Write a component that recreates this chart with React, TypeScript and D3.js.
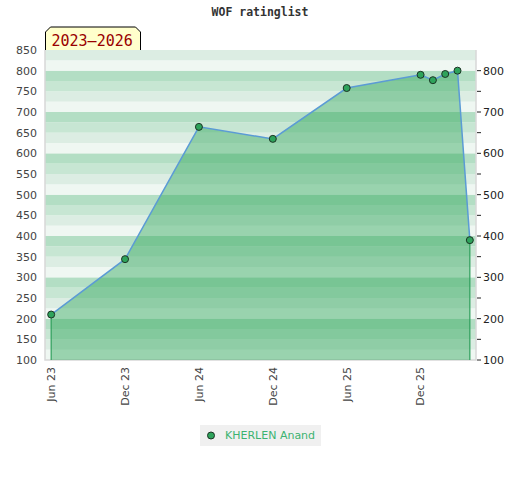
import React, { useRef, useEffect } from 'react';
import * as d3 from 'd3';

// Rating history (one point per list month)
const months = ['2023-06', '2023-12', '2024-06', '2024-12', '2025-06', '2025-12', '2026-01', '2026-02', '2026-03', '2026-04'];
const ratings = [210, 344, 664, 635, 758, 790, 777, 792, 800, 390];
const xTickMonths = ['2023-06', '2023-12', '2024-06', '2024-12', '2025-06', '2025-12'];
const leftTicks = [100, 150, 200, 250, 300, 350, 400, 450, 500, 550, 600, 650, 700, 750, 800, 850];
const rightTicks = [100, 200, 300, 400, 500, 600, 700, 800];
const playerName = 'KHERLEN Anand';
const periodLabel = '2023–2026';
const chartTitle = 'WOF ratinglist';

const monthNames = ['Jan', 'Feb', 'Mar', 'Apr', 'May', 'Jun', 'Jul', 'Aug', 'Sep', 'Oct', 'Nov', 'Dec'];

// months since Jun 2023
const monthIndex = (m: string) => {
  const [y, mo] = m.split('-').map(Number);
  return (y - 2023) * 12 + (mo - 6);
};
const monthLabel = (m: string) => {
  const [y, mo] = m.split('-').map(Number);
  return `${monthNames[mo - 1]} ${String(y).slice(2)}`;
};

const App = () => {
  const svgRef = useRef<SVGSVGElement | null>(null);

  useEffect(() => {
    if (!svgRef.current) return;
    document.body.style.margin = '0';

    const width = 520;
    const height = 480;
    const plot = { left: 45, right: 476, top: 50, bottom: 360 };

    const svg = d3.select(svgRef.current)
      .attr('width', width)
      .attr('height', height);
    svg.selectAll('*').remove();

    const x = d3.scaleLinear().domain([-0.5, 34.5]).range([plot.left, plot.right]);
    const y = d3.scaleLinear().domain([100, 850]).range([plot.bottom, plot.top]);

    // title
    svg.append('text')
      .attr('x', 260).attr('y', 16)
      .attr('text-anchor', 'middle')
      .style('font-family', '"DejaVu Sans Mono", monospace')
      .style('font-weight', 'bold')
      .style('font-size', '11.5px')
      .attr('fill', '#333')
      .text(chartTitle);

    // striped background, 25-point stripes repeating every 100
    const stripeColors = ['#eff7f2', '#dcede3', '#c7e6d3', '#b3dec4'];
    const stripes = d3.range(100, 850, 25);
    svg.append('g').selectAll('rect')
      .data(stripes)
      .enter().append('rect')
      .attr('x', plot.left)
      .attr('width', plot.right - plot.left)
      .attr('y', d => y(d + 25))
      .attr('height', d => y(d) - y(d + 25))
      .attr('fill', d => stripeColors[(d % 100) / 25]);

    // plot frame
    svg.append('path')
      .attr('d', `M${plot.left},${plot.top}V${plot.bottom}H${plot.right}V${plot.top}`)
      .attr('fill', 'none')
      .attr('stroke', '#d8d8d8')
      .attr('stroke-width', 1.5);

    const pts: [number, number][] = months.map((m, i) => [monthIndex(m), ratings[i]]);

    // area
    const area = d3.area<[number, number]>()
      .x(d => x(d[0]))
      .y0(y(100))
      .y1(d => y(d[1]));
    svg.append('path')
      .datum(pts)
      .attr('d', area)
      .attr('fill', 'rgb(48,167,91)')
      .attr('fill-opacity', 0.45);

    // vertical edges
    [pts[0], pts[pts.length - 1]].forEach(p => {
      svg.append('line')
        .attr('x1', x(p[0])).attr('x2', x(p[0]))
        .attr('y1', y(p[1])).attr('y2', y(100))
        .attr('stroke', '#2e9e5b')
        .attr('stroke-width', 1.2);
    });

    // line
    const line = d3.line<[number, number]>()
      .x(d => x(d[0]))
      .y(d => y(d[1]));
    svg.append('path')
      .datum(pts)
      .attr('d', line)
      .attr('fill', 'none')
      .attr('stroke', '#5b9bd5')
      .attr('stroke-width', 1.5);

    // markers
    svg.append('g').selectAll('circle')
      .data(pts)
      .enter().append('circle')
      .attr('cx', d => x(d[0]))
      .attr('cy', d => y(d[1]))
      .attr('r', 3.5)
      .attr('fill', '#2ea35b')
      .attr('stroke', '#1b3324')
      .attr('stroke-width', 1);

    // left axis labels
    svg.append('g').selectAll('text')
      .data(leftTicks)
      .enter().append('text')
      .attr('x', 37)
      .attr('y', d => y(d))
      .attr('dy', '0.35em')
      .attr('text-anchor', 'end')
      .style('font-family', '"DejaVu Sans", sans-serif')
      .style('font-size', '11px')
      .attr('fill', '#444')
      .text(d => d);

    // right axis ticks + labels
    const rightMinor = d3.range(150, 850, 100);
    svg.append('g').selectAll('line')
      .data([...rightTicks, ...rightMinor])
      .enter().append('line')
      .attr('x1', 477).attr('x2', 481)
      .attr('y1', d => y(d)).attr('y2', d => y(d))
      .attr('stroke', '#222')
      .attr('stroke-width', 1);
    svg.append('g').selectAll('text')
      .data(rightTicks)
      .enter().append('text')
      .attr('x', 483)
      .attr('y', d => y(d))
      .attr('dy', '0.35em')
      .style('font-family', '"DejaVu Sans", sans-serif')
      .style('font-size', '11px')
      .attr('fill', '#222')
      .text(d => d);

    // x axis labels, rotated
    svg.append('g').selectAll('text')
      .data(xTickMonths)
      .enter().append('text')
      .attr('transform', d => `translate(${x(monthIndex(d))},367) rotate(-90)`)
      .attr('dy', '0.35em')
      .attr('text-anchor', 'end')
      .style('font-family', '"DejaVu Sans", sans-serif')
      .style('font-size', '11px')
      .attr('fill', '#444')
      .text(d => monthLabel(d));

    // period badge
    svg.append('path')
      .attr('d', 'M45.5,50V32L50.5,27H135.5L140.5,32V50')
      .attr('fill', '#ffffcc')
      .attr('stroke', '#000')
      .attr('stroke-width', 1);
    svg.append('text')
      .attr('x', 51.5).attr('y', 45.5)
      .style('font-family', '"DejaVu Sans Mono", monospace')
      .style('font-size', '15px')
      .attr('fill', '#990000')
      .text(periodLabel);

    // legend
    svg.append('rect')
      .attr('x', 200).attr('y', 425)
      .attr('width', 121).attr('height', 21)
      .attr('fill', '#f0f0f0');
    svg.append('circle')
      .attr('cx', 211).attr('cy', 435.5)
      .attr('r', 3.5)
      .attr('fill', '#2ea35b')
      .attr('stroke', '#1b3324')
      .attr('stroke-width', 1);
    svg.append('text')
      .attr('x', 225).attr('y', 435.5)
      .attr('dy', '0.35em')
      .style('font-family', '"DejaVu Sans", sans-serif')
      .style('font-size', '11px')
      .attr('fill', '#3cb371')
      .text(playerName);
  }, []);

  return <svg ref={svgRef} style={{ display: 'block' }}></svg>;
};

export default App;
